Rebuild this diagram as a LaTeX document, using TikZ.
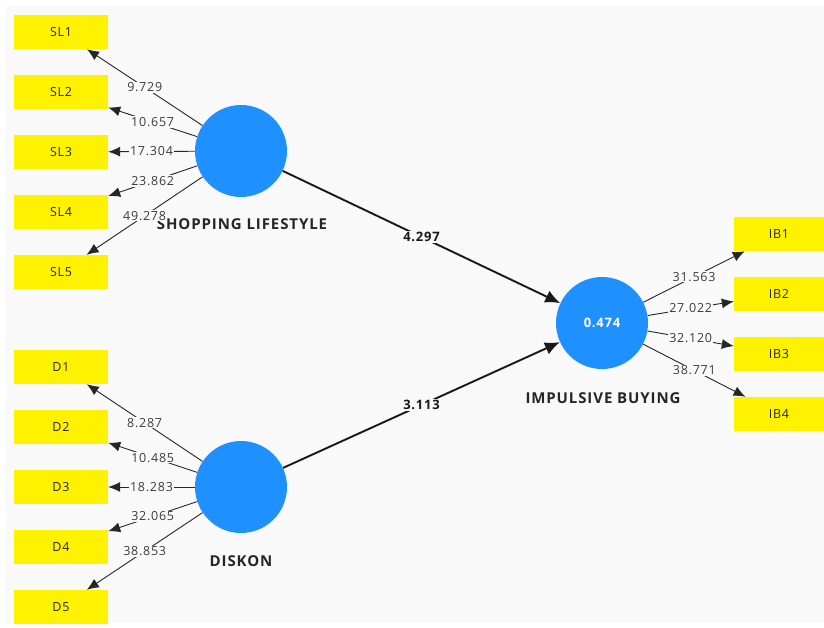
\documentclass[tikz,border=0pt]{standalone}
\usepackage{fontspec}
\setmainfont[LetterSpace=6]{Open Sans}
\usetikzlibrary{arrows.meta}

\definecolor{plsblue}{RGB}{30,144,255}
\definecolor{plsbg}{RGB}{249,249,249}
\definecolor{plsgray}{RGB}{60,60,60}

\tikzset{
	indicator/.style={fill=yellow, minimum width=94pt, minimum height=34pt, inner sep=0pt,
		text=black!85, font=\fontsize{12.5}{13}\selectfont},
	latent/.style={circle, fill=plsblue, minimum size=92pt, inner sep=0pt},
	latentname/.style={text=black!85, font=\bfseries\fontsize{15}{16}\selectfont},
	loading/.style={draw=black!85, line width=0.9pt, -{Latex[length=12pt,width=10pt]}},
	loadval/.style={fill=plsbg, inner sep=1pt, text=plsgray, font=\fontsize{12.5}{13}\selectfont},
	pathline/.style={draw=black!90, line width=1.9pt, -{Latex[length=15pt,width=13pt]}},
	pathval/.style={fill=plsbg, inner sep=1.5pt, text=black!90, font=\bfseries\fontsize{13}{14}\selectfont}
}

\begin{document}
\begin{tikzpicture}[x=1pt, y=-1pt]
	% canvas
	\useasboundingbox (0,0) rectangle (824,627);
	\fill[white] (0,0) rectangle (824,627);
	\fill[plsbg] (6,6) rectangle (824,623);
	
	% latent variables
	\node[latent] (SL) at (241,151) {};
	\node[latent] (DK) at (241,487) {};
	\node[latent] (IB) at (602,323) {\bfseries\color{white}\fontsize{13}{14}\selectfont 0.474};
	
	\node[latentname] (SLname) at (242,224) {SHOPPING LIFESTYLE};
	\node[latentname] (DKname) at (241,561) {DISKON};
	\node[latentname] (IBname) at (603,398) {IMPULSIVE BUYING};
	
	% shopping lifestyle indicators
	\foreach \val [count=\i] in {9.729,10.657,17.304,23.862,49.278} {
		\node[indicator] (SL\i) at (61,{32+60*(\i-1)}) {SL\i};
		\draw[loading] (SL) -- node[loadval] {\val} (SL\i);
	}
	
	% diskon indicators
	\foreach \val [count=\i] in {8.287,10.485,18.283,32.065,38.853} {
		\node[indicator] (D\i) at (61,{367+60*(\i-1)}) {D\i};
		\draw[loading] (DK) -- node[loadval] {\val} (D\i);
	}
	
	% impulsive buying indicators
	\foreach \val [count=\i] in {31.563,27.022,32.120,38.771} {
		\node[indicator, minimum width=90pt] (IB\i) at (779,{234+60*(\i-1)}) {IB\i};
		\draw[loading] (IB) -- node[loadval] {\val} (IB\i);
	}
	
	% paths
	\draw[pathline] (SL) -- node[pathval] {4.297} (IB);
	\draw[pathline] (DK) -- node[pathval] {3.113} (IB);
\end{tikzpicture}
\end{document}
